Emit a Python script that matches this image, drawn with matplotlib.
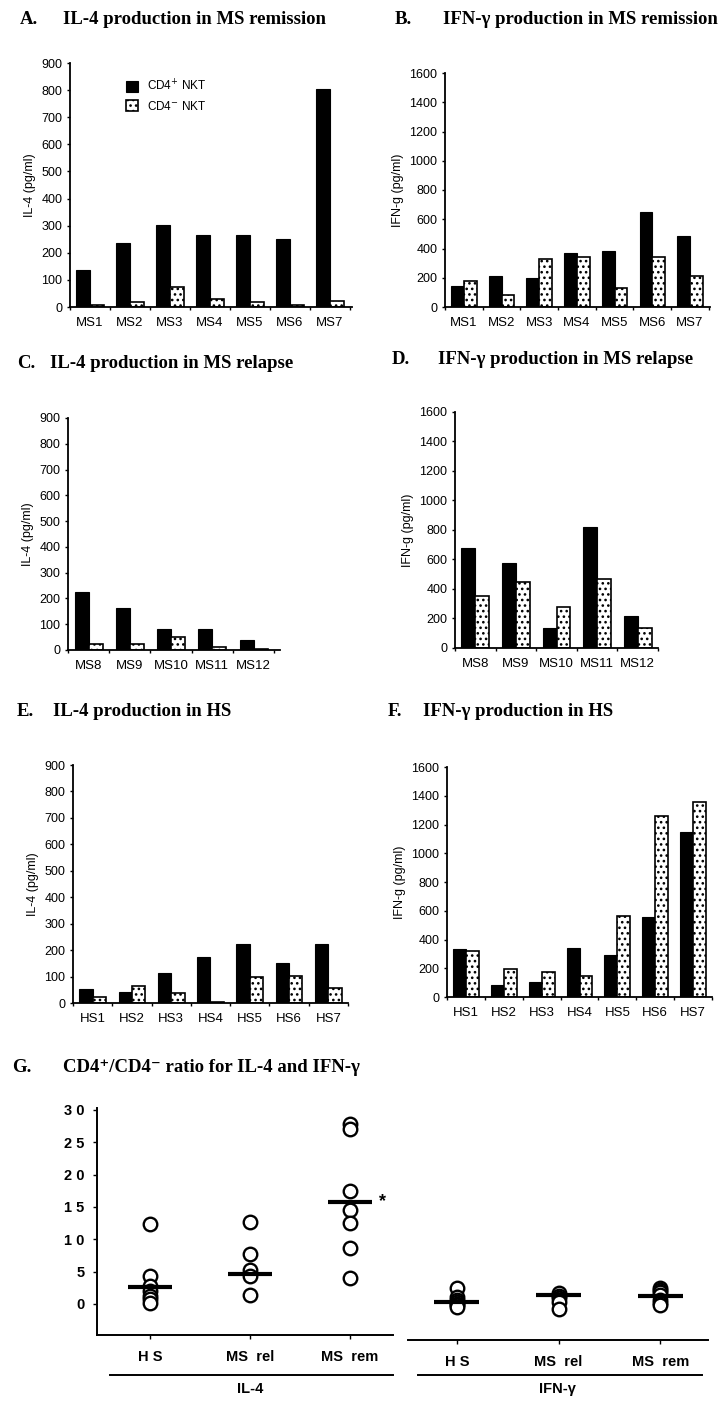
import matplotlib
matplotlib.use("Agg")
import matplotlib.pyplot as plt
from matplotlib.lines import Line2D
import numpy as np

# ---------------- data ----------------
ms_rem_labels = ['MS1', 'MS2', 'MS3', 'MS4', 'MS5', 'MS6', 'MS7']
il4_rem_pos = [138, 237, 301, 266, 266, 252, 803]
il4_rem_neg = [6, 18, 74, 31, 18, 6, 21]
ifn_rem_pos = [146, 213, 195, 368, 383, 650, 483]
ifn_rem_neg = [180, 84, 328, 340, 130, 340, 211]

ms_rel_labels = ['MS8', 'MS9', 'MS10', 'MS11', 'MS12']
il4_rel_pos = [225, 163, 81, 81, 39]
il4_rel_neg = [23, 23, 50, 12, 3]
ifn_rel_pos = [678, 576, 136, 820, 217]
ifn_rel_neg = [353, 447, 278, 468, 136]

hs_labels = ['HS1', 'HS2', 'HS3', 'HS4', 'HS5', 'HS6', 'HS7']
il4_hs_pos = [53, 42, 113, 174, 223, 152, 223]
il4_hs_neg = [24, 66, 39, 5, 100, 102, 57]
ifn_hs_pos = [333, 82, 103, 340, 294, 560, 1145]
ifn_hs_neg = [323, 197, 172, 143, 565, 1256, 1354]

il4_ticks = [0, 100, 200, 300, 400, 500, 600, 700, 800, 900]
ifn_ticks = [0, 200, 400, 600, 800, 1000, 1200, 1400, 1600]

ratio_groups = ['H S', 'MS  rel', 'MS  rem']
il4_ratio_hs = [12.4, 4.3, 2.8, 2.0, 1.3, 0.8, 0.2]
il4_ratio_rel = [12.6, 7.8, 5.3, 4.4, 1.4]
il4_ratio_rem = [27.8, 27.0, 17.4, 14.5, 12.5, 8.6, 4.0]
il4_ratio_means = [2.6, 4.6, 15.8]
ifn_ratio_hs = [3.4, 2.0, 1.6, 1.3, 1.0, 0.8, 0.5]
ifn_ratio_rel = [2.6, 2.2, 1.8, 1.2, 0.1]
ifn_ratio_rem = [3.4, 3.1, 2.8, 2.3, 1.6, 1.1, 0.8]
ifn_ratio_means = [1.2, 2.3, 2.2]
ratio_ticks = [0, 5, 10, 15, 20, 25, 30]
ratio_ticklabels = ['0', '5', '1 0', '1 5', '2 0', '2 5', '3 0']

# ---------------- style ----------------
plt.rcParams['font.family'] = ['Liberation Sans', 'DejaVu Sans']
plt.rcParams['hatch.linewidth'] = 1.1
SERIF = ['Liberation Serif', 'DejaVu Serif']
W, H = 720, 1406
fig = plt.figure(figsize=(W / 100, H / 100), dpi=100)


def rect(l, r, top, bottom):
    return [l / W, 1 - bottom / H, (r - l) / W, (bottom - top) / H]


def title(xl, xt, y, letter, text):
    fig.text(xl / W, 1 - y / H, letter, family=SERIF, weight='bold',
             fontsize=13.5, va='center', ha='left')
    fig.text(xt / W, 1 - y / H, text, family=SERIF, weight='bold',
             fontsize=13.5, va='center', ha='left')


def bar_panel(r, labels, pos, neg, ymax, ticks, ylabel, xlim, bw=0.34,
              legend=False):
    ax = fig.add_axes(r)
    x = np.arange(len(labels))
    ax.bar(x - bw / 2, pos, bw, color='black', edgecolor='black', lw=0.8,
           label='CD4$^{+}$ NKT')
    ax.bar(x + bw / 2, neg, bw, color='white', edgecolor='black', lw=1.2,
           hatch='...', label='CD4$^{-}$ NKT')
    ax.set_xlim(*xlim)
    ax.set_ylim(0, ymax)
    ax.set_yticks(ticks)
    ax.set_xticks(x)
    ax.set_xticklabels(labels, fontsize=9.5)
    ax.set_xticks(np.arange(len(labels) + 1) - 0.5, minor=True)
    ax.tick_params(axis='x', which='major', length=0, pad=7)
    ax.tick_params(axis='x', which='minor', length=2.5, width=1)
    ax.tick_params(axis='y', length=2.5, width=1, labelsize=9, pad=3)
    for s in ('top', 'right'):
        ax.spines[s].set_visible(False)
    for s in ('left', 'bottom'):
        ax.spines[s].set_linewidth(1.3)
    ax.set_ylabel(ylabel, fontsize=9, labelpad=4)
    if legend:
        ax.legend(loc='upper left', bbox_to_anchor=(0.16, 0.98), frameon=False,
                  fontsize=8.5, handlelength=1.0, handleheight=1.0,
                  handletextpad=0.8, labelspacing=0.5)
    return ax


# ---------------- A-F ----------------
title(20, 63, 20, 'A.', 'IL-4 production in MS remission')
bar_panel(rect(70, 352, 63, 307), ms_rem_labels, il4_rem_pos, il4_rem_neg,
          900, il4_ticks, 'IL-4 (pg/ml)', (-0.5, 6.55), legend=True)

title(395, 443, 20, 'B.', 'IFN-γ production in MS remission')
bar_panel(rect(445, 710, 73, 307), ms_rem_labels, ifn_rem_pos, ifn_rem_neg,
          1600, ifn_ticks, 'IFN-g (pg/ml)', (-0.48, 6.53))

title(17, 50, 363, 'C.', 'IL-4 production in MS relapse')
bar_panel(rect(68, 280, 418, 650), ms_rel_labels, il4_rel_pos, il4_rel_neg,
          900, il4_ticks, 'IL-4 (pg/ml)', (-0.4, 4.64))

title(392, 438, 360, 'D.', 'IFN-γ production in MS relapse')
bar_panel(rect(455, 658, 412, 648), ms_rel_labels, ifn_rel_pos, ifn_rel_neg,
          1600, ifn_ticks, 'IFN-g (pg/ml)', (-0.49, 4.49))

title(17, 53, 712, 'E.', 'IL-4 production in HS')
bar_panel(rect(73, 348, 765, 1003), hs_labels, il4_hs_pos, il4_hs_neg,
          900, il4_ticks, 'IL-4 (pg/ml)', (-0.47, 6.29))

title(388, 423, 712, 'F.', 'IFN-γ production in HS')
bar_panel(rect(447, 712, 767, 997), hs_labels, ifn_hs_pos, ifn_hs_neg,
          1600, ifn_ticks, 'IFN-g (pg/ml)', (-0.47, 6.45))

# ---------------- G ----------------
title(12, 63, 1067, 'G.', 'CD4⁺/CD4⁻ ratio for IL-4 and IFN-γ')


def ratio_panel(r, groups, means, xlim, ylim, show_y):
    ax = fig.add_axes(r)
    for i, vals in enumerate(groups):
        ax.scatter(np.full(len(vals), i), vals, s=95, facecolor='white',
                   edgecolor='black', linewidth=1.7, zorder=3)
    ax.hlines(means, np.arange(3) - 0.22, np.arange(3) + 0.22,
              color='black', lw=3, zorder=4)
    ax.set_xlim(*xlim)
    ax.set_ylim(*ylim)
    ax.set_xticks(range(3))
    ax.set_xticklabels(ratio_groups, fontsize=10.5, weight='bold')
    ax.tick_params(axis='x', length=3, width=1, pad=8)
    for s in ('top', 'right'):
        ax.spines[s].set_visible(False)
    ax.spines['bottom'].set_linewidth(1.4)
    if show_y:
        ax.set_yticks(ratio_ticks)
        ax.set_yticklabels(ratio_ticklabels, fontsize=10.5, weight='bold')
        ax.tick_params(axis='y', length=3, width=1, pad=6)
        ax.spines['left'].set_linewidth(1.4)
    else:
        ax.spines['left'].set_visible(False)
        ax.set_yticks([])
    return ax


axg1 = ratio_panel(rect(97, 393, 1108, 1335),
                   [il4_ratio_hs, il4_ratio_rel, il4_ratio_rem],
                   il4_ratio_means, (-0.53, 2.43), (-4.8, 30.3), True)
axg1.text(2.33, il4_ratio_means[2], '*', fontsize=13, weight='bold',
          ha='center', va='center')
axg2 = ratio_panel(rect(408, 708, 1114, 1340),
                   [ifn_ratio_hs, ifn_ratio_rel, ifn_ratio_rem],
                   ifn_ratio_means, (-0.48, 2.47), (-4.64, 30.3), False)

# group underlines and labels
for x0, x1, lab, xc in ((110, 393, 'IL-4', 250), (418, 702, 'IFN-γ', 557)):
    fig.add_artist(Line2D([x0 / W, x1 / W], [1 - 1375 / H, 1 - 1375 / H],
                          transform=fig.transFigure, color='black', lw=1.4))
    fig.text(xc / W, 1 - 1389 / H, lab, fontsize=10.5, weight='bold',
             ha='center', va='center')

fig.savefig('out.png', dpi=100)
